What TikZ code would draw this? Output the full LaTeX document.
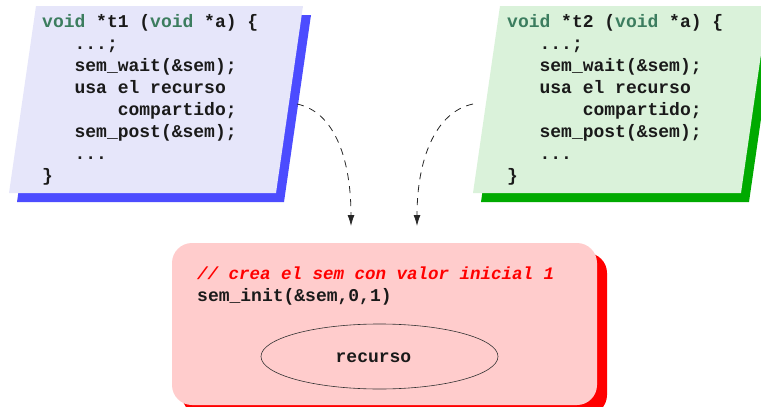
\documentclass[tikz,border=0pt]{standalone}
\usepackage{fontspec}
\setmonofont{Liberation Mono}
\usetikzlibrary{shapes.geometric,arrows.meta}
\definecolor{bluefill}{RGB}{230,230,250}
\definecolor{blueshadow}{RGB}{76,76,255}
\definecolor{greenfill}{RGB}{218,242,218}
\definecolor{greenshadow}{RGB}{0,170,0}
\definecolor{redfill}{RGB}{255,204,204}
\definecolor{redshadow}{RGB}{255,0,0}
\definecolor{kw}{RGB}{60,125,95}
\definecolor{txt}{RGB}{26,26,26}
\tikzset{
  code/.style={anchor=base west, inner sep=0pt, text=txt,
    font=\fontsize{18}{22}\selectfont\ttfamily\bfseries},
  comment/.style={code, text=redshadow, font=\fontsize{17.5}{22}\selectfont\ttfamily\bfseries\itshape},
  flow/.style={draw=black!85, line width=0.8pt, dash pattern=on 7pt off 6pt,
    -{Latex[length=11pt,width=7pt]}},
}
\newcommand{\kwd}[1]{\textcolor{kw}{#1}}
\begin{document}
\begin{tikzpicture}[x=1pt,y=-1pt]
\useasboundingbox (0,0) rectangle (761,407);
\clip (0,0) rectangle (761,407);
% thread 1 card
\fill[blueshadow] (44,15) -- (311,15) -- (284,202) -- (17,202) -- cycle;
\fill[bluefill] (36,6) -- (303,6) -- (276,193) -- (9,193) -- cycle;
% thread 2 card
\fill[greenshadow] (508,15) -- (776,15) -- (749,202) -- (481,202) -- cycle;
\fill[greenfill] (500,6) -- (768,6) -- (741,193) -- (473,193) -- cycle;
% shared box
\fill[redshadow, rounded corners=20pt] (182,253) rectangle (607,415);
\fill[redfill, rounded corners=20pt] (172,243) rectangle (597,405);
% code of t1
\node[code] (a1) at (42,27)  {\kwd{void} *t1 (\kwd{void} *a) \{};
\node[code] (a2) at (42,49)  {\phantom{xxx}...;};
\node[code] (a3) at (42,71)  {\phantom{xxx}sem\_wait(\&sem);};
\node[code] (a4) at (42,93)  {\phantom{xxx}usa el recurso};
\node[code] (a5) at (42,115) {\phantom{xxxxxxx}compartido;};
\node[code] (a6) at (42,137) {\phantom{xxx}sem\_post(\&sem);};
\node[code] (a7) at (42,159) {\phantom{xxx}...};
\node[code] (a8) at (42,181) {\}};
% code of t2
\node[code] (b1) at (507,27)  {\kwd{void} *t2 (\kwd{void} *a) \{};
\node[code] (b2) at (507,49)  {\phantom{xxx}...;};
\node[code] (b3) at (507,71)  {\phantom{xxx}sem\_wait(\&sem);};
\node[code] (b4) at (507,93)  {\phantom{xxx}usa el recurso};
\node[code] (b5) at (507,115) {\phantom{xxxxxxx}compartido;};
\node[code] (b6) at (507,137) {\phantom{xxx}sem\_post(\&sem);};
\node[code] (b7) at (507,159) {\phantom{xxx}...};
\node[code] (b8) at (507,181) {\}};
% shared box contents
\node[comment] (c1) at (197,279) {// crea el sem con valor inicial 1};
\node[code] (c2) at (197,301) {sem\_init(\&sem,0,1)};
\node[draw=black!80, line width=0.6pt, ellipse, minimum width=237pt,
  minimum height=65pt, inner sep=0pt] (res) at (379.5,356.5) {};
\node[code, anchor=base] (restext) at (373.5,362) {recurso};
% connectors
\coordinate (s1) at (297,104);
\coordinate (e1) at (351,226);
\coordinate (s2) at (473,104);
\coordinate (e2) at (417,226);
\draw[flow] (s1) .. controls (335,112) and (351,160) .. (e1);
\draw[flow] (s2) .. controls (435,112) and (417,160) .. (e2);
\end{tikzpicture}
\end{document}
